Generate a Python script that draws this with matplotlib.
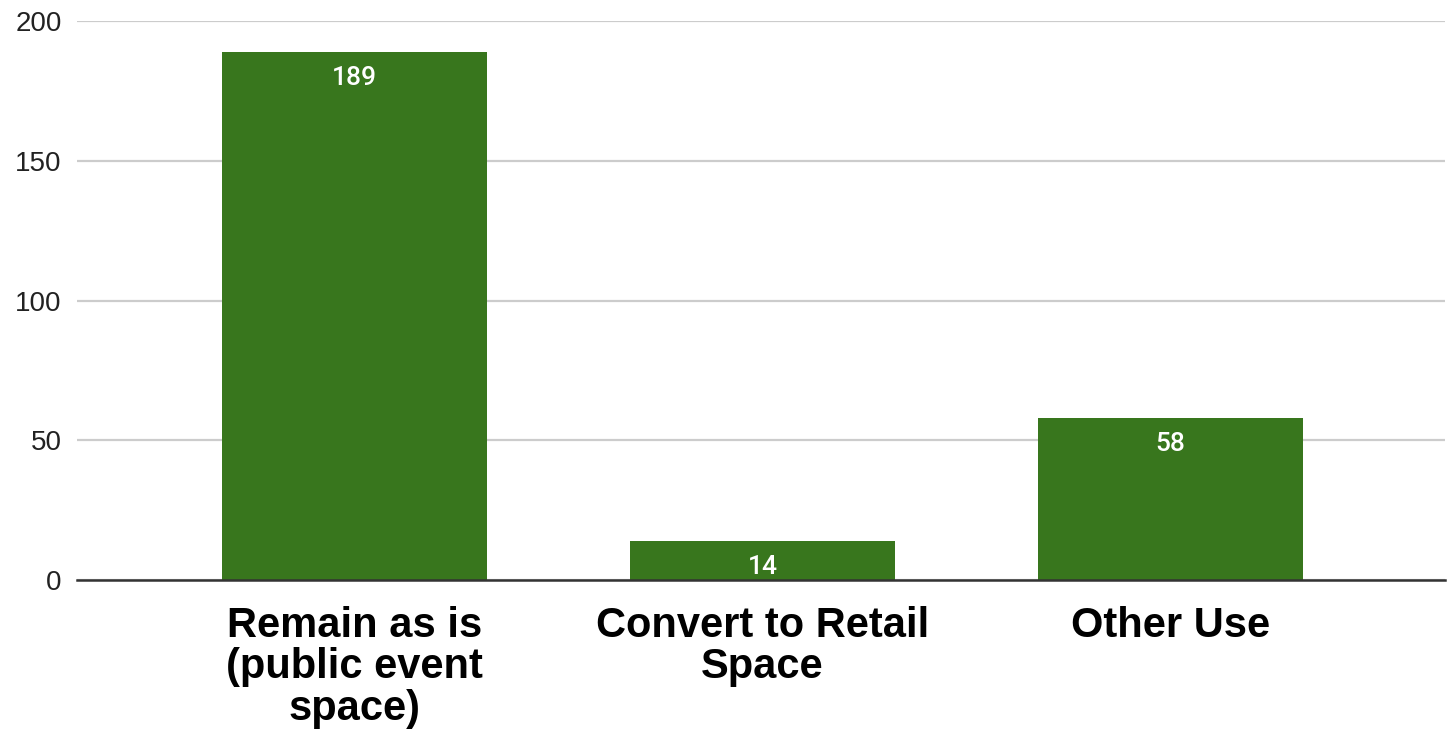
import matplotlib
matplotlib.use("Agg")
import matplotlib.pyplot as plt

categories = ["Remain as is\n(public event\nspace)", "Convert to Retail\nSpace", "Other Use"]
counts = [189, 14, 58]
yticks = [0, 50, 100, 150, 200]

GREEN = "#38761d"

fig = plt.figure(figsize=(14.51, 7.34), dpi=100)
ax = fig.add_axes([0.053, 0.21, 0.943, 0.761])

x = list(range(len(categories)))
bars = ax.bar(x, counts, width=0.65, color=GREEN, zorder=3)

for b, v in zip(bars, counts):
    ax.annotate(str(v), (b.get_x() + b.get_width() / 2, v),
                xytext=(0, -10), textcoords="offset points",
                ha="center", va="top", color="white",
                fontsize=19, family="Roboto", fontweight=500, zorder=4)

ax.set_xlim(-0.68, 2.673)
ax.set_ylim(0, 200)
ax.set_yticks(yticks)
ax.set_yticklabels([str(t) for t in yticks], fontsize=20,
                   family="Liberation Sans", color="#222222")
ax.set_xticks(x)
ax.set_xticklabels(categories, fontsize=30, fontweight="bold",
                   family="Liberation Sans", color="black",
                   linespacing=1.04, va="top")
ax.tick_params(axis="both", length=0)
ax.tick_params(axis="y", pad=11)
ax.tick_params(axis="x", pad=19)

ax.grid(axis="y", color="#cccccc", lw=1.6, zorder=0)
for s in ["top", "right", "left"]:
    ax.spines[s].set_visible(False)
ax.spines["bottom"].set_color("#333333")
ax.spines["bottom"].set_linewidth(1.8)
ax.spines["bottom"].set_zorder(5)

fig.savefig("out.png", dpi=100)
